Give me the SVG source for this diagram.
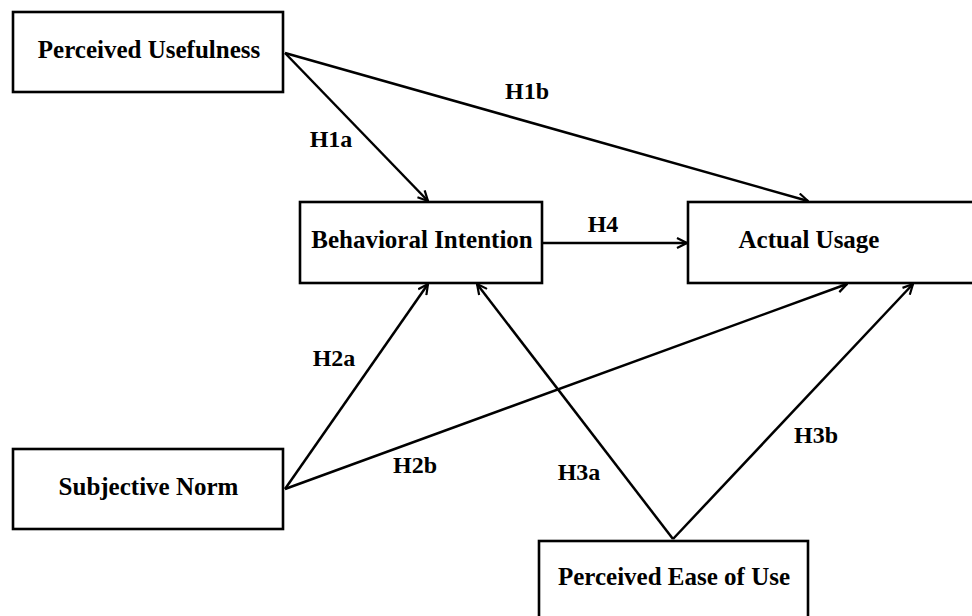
<svg xmlns="http://www.w3.org/2000/svg" width="972" height="616" viewBox="0 0 972 616">
<style>
.box{fill:#fff;stroke:#000;stroke-width:2.6}
.t{font-family:"Liberation Serif","Times New Roman",serif;font-weight:bold;font-size:25px;fill:#000;text-anchor:middle}
.lbl{font-family:"Liberation Serif","Times New Roman",serif;font-weight:bold;font-size:24px;fill:#000;text-anchor:middle}
.c{stroke:#000;stroke-width:2.5;fill:none;marker-end:url(#ah)}
</style>
<defs>
<marker id="ah" viewBox="0 0 12 12" refX="11" refY="6" markerWidth="12" markerHeight="12" markerUnits="userSpaceOnUse" orient="auto">
<path d="M1,1 L11,6 L1,11" fill="none" stroke="#000" stroke-width="2.2"/>
</marker>
</defs>
<rect width="972" height="616" fill="#fff"/>
<g id="connectors">
<line class="c" x1="285" y1="53" x2="428" y2="201"/>
<line class="c" x1="285" y1="53" x2="808" y2="201"/>
<line class="c" x1="542" y1="243" x2="687" y2="243"/>
<line class="c" x1="285" y1="489" x2="428" y2="284"/>
<line class="c" x1="285" y1="489" x2="847" y2="284"/>
<line class="c" x1="673" y1="539" x2="477" y2="284"/>
<line class="c" x1="673" y1="539" x2="913" y2="284"/>
<text class="lbl" x="331" y="147">H1a</text>
<text class="lbl" x="527" y="99">H1b</text>
<text class="lbl" x="603" y="232">H4</text>
<text class="lbl" x="334" y="366">H2a</text>
<text class="lbl" x="415" y="473">H2b</text>
<text class="lbl" x="579" y="480">H3a</text>
<text class="lbl" x="816" y="443">H3b</text>
</g>
<g id="pu">
<rect class="box" x="13" y="12" width="270" height="80"/>
<text class="t" x="149" y="58">Perceived Usefulness</text>
</g>
<g id="bi">
<rect class="box" x="300" y="202" width="242" height="81"/>
<text class="t" x="422" y="248">Behavioral Intention</text>
</g>
<g id="au">
<rect class="box" x="688" y="202" width="300" height="81"/>
<text class="t" x="809" y="248">Actual Usage</text>
</g>
<g id="sn">
<rect class="box" x="13" y="449" width="270" height="80"/>
<text class="t" x="148.5" y="495">Subjective Norm</text>
</g>
<g id="peou">
<rect class="box" x="539" y="541" width="269" height="90"/>
<text class="t" x="674" y="585">Perceived Ease of Use</text>
</g>
</svg>
